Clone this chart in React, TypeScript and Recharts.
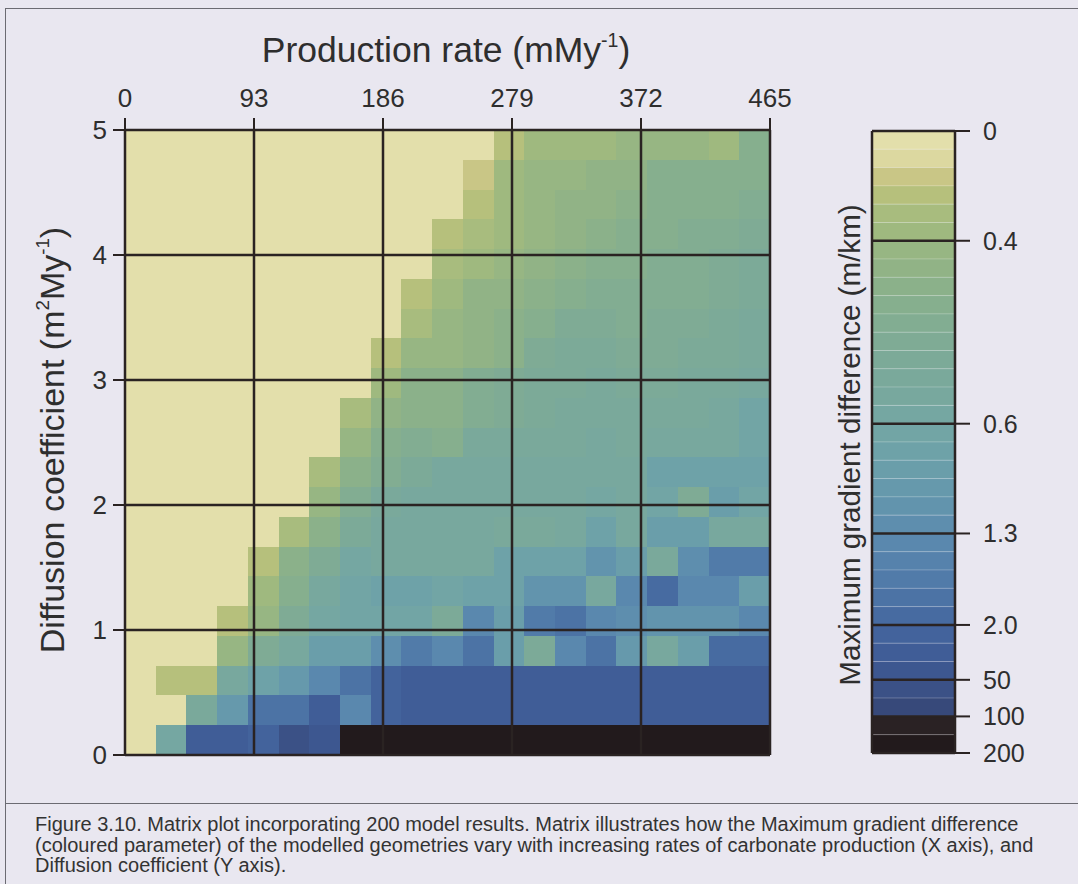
import { ComposedChart, XAxis, YAxis, Scatter, ReferenceArea, ReferenceLine } from "recharts";

const X_TICKS = [0, 93, 186, 279, 372, 465];
const Y_TICKS = [0, 1, 2, 3, 4, 5];

// discrete colour levels, top of the colour bar (0) to the bottom (200)
const PALETTE = [
  "#e3dfab", "#dcd8a0", "#c9c686", "#b6c07c", "#a8bc7e", "#9fb97f", "#97b683", "#91b386",
  "#8bb18a", "#86af8e", "#82ad92", "#7fab95", "#7caa98", "#7aa99b", "#78a89e", "#75a7a2",
  "#72a5a5", "#6ea2a8", "#6a9eaa", "#6699ac", "#6294ad", "#5e8eae", "#5a88ae", "#5682ac",
  "#517ba9", "#4c73a5", "#476ba1", "#43639c", "#405d97", "#3d5790", "#3b5186", "#37497a",
  "#2a2224", "#221a1c",
];

const CB_TICKS = [0, 6, 16, 22, 27, 30, 32, 34];
const CB_LABELS = ["0", "0.4", "0.6", "1.3", "2.0", "50", "100", "200"];

// colour level of every model run; rows from D = 5 (top) down to D = 0
const LEVELS = [
  [0, 0, 0, 0, 0, 0, 0, 0, 0, 0, 0, 0, 3, 5, 5, 5, 6, 6, 6, 5, 9],
  [0, 0, 0, 0, 0, 0, 0, 0, 0, 0, 0, 2, 5, 6, 6, 7, 7, 9, 9, 9, 9],
  [0, 0, 0, 0, 0, 0, 0, 0, 0, 0, 0, 3, 5, 6, 7, 7, 8, 9, 9, 9, 10],
  [0, 0, 0, 0, 0, 0, 0, 0, 0, 0, 3, 4, 5, 6, 7, 8, 9, 9, 10, 10, 11],
  [0, 0, 0, 0, 0, 0, 0, 0, 0, 0, 4, 5, 6, 7, 8, 9, 9, 10, 10, 11, 12],
  [0, 0, 0, 0, 0, 0, 0, 0, 0, 3, 5, 7, 7, 8, 9, 10, 10, 10, 10, 11, 12],
  [0, 0, 0, 0, 0, 0, 0, 0, 0, 4, 6, 7, 8, 9, 11, 11, 10, 11, 11, 12, 13],
  [0, 0, 0, 0, 0, 0, 0, 0, 3, 6, 6, 7, 8, 11, 12, 12, 11, 11, 12, 12, 13],
  [0, 0, 0, 0, 0, 0, 0, 0, 5, 8, 8, 10, 11, 12, 12, 13, 12, 12, 13, 13, 14],
  [0, 0, 0, 0, 0, 0, 0, 4, 7, 8, 8, 10, 11, 12, 13, 13, 13, 13, 13, 14, 16],
  [0, 0, 0, 0, 0, 0, 0, 6, 9, 10, 9, 13, 13, 13, 13, 14, 13, 14, 14, 14, 16],
  [0, 0, 0, 0, 0, 0, 4, 8, 10, 12, 14, 14, 14, 14, 14, 14, 14, 17, 17, 17, 17],
  [0, 0, 0, 0, 0, 0, 6, 10, 13, 14, 14, 14, 14, 14, 14, 15, 14, 16, 11, 18, 16],
  [0, 0, 0, 0, 0, 4, 8, 12, 14, 14, 14, 14, 13, 13, 14, 17, 14, 18, 18, 14, 14],
  [0, 0, 0, 0, 3, 8, 11, 15, 14, 14, 14, 14, 17, 17, 17, 20, 18, 13, 21, 24, 24],
  [0, 0, 0, 0, 5, 9, 14, 16, 17, 17, 16, 17, 17, 20, 20, 14, 22, 26, 22, 22, 18],
  [0, 0, 0, 3, 6, 11, 15, 16, 16, 16, 12, 22, 18, 24, 25, 22, 21, 20, 20, 20, 22],
  [0, 0, 0, 6, 11, 14, 18, 18, 21, 24, 22, 25, 18, 12, 22, 25, 19, 14, 18, 26, 26],
  [0, 3, 3, 14, 17, 19, 22, 25, 27, 28, 28, 28, 28, 28, 28, 28, 28, 28, 28, 28, 28],
  [0, 0, 13, 19, 25, 25, 28, 22, 27, 28, 28, 28, 28, 28, 28, 28, 28, 28, 28, 28, 28],
  [0, 15, 28, 28, 27, 30, 29, 33, 33, 33, 33, 33, 33, 33, 33, 33, 33, 33, 33, 33, 33],
];

const X_MAX = 465;
const Y_MAX = 5;
const FONT = "'Liberation Sans', Arial, sans-serif";
const INK = "#2a2322";
const TEXT = "#2e2e2e";

const nRows = LEVELS.length;
const nCols = LEVELS[0].length;
const dx = X_MAX / nCols;
const dy = Y_MAX / nRows;
const cells = LEVELS.flatMap((row, i) =>
  row.map((lvl, c) => ({
    x: (c + 0.5) * dx,
    y: (nRows - 0.5 - i) * dy,
    x1: c * dx,
    x2: (c + 1) * dx,
    y1: (nRows - 1 - i) * dy,
    y2: (nRows - i) * dy,
    fill: PALETTE[lvl],
  }))
);

const bands = PALETTE.map((fill, i) => ({ x: 0.5, y: i + 0.5, y1: i, y2: i + 1, fill }));

function Heatmap() {
  const tick = { fontSize: 26, fill: TEXT, fontFamily: FONT };
  return (
    <ComposedChart width={800} height={800} data={cells} margin={{ top: 88, right: 30, bottom: 45, left: 85 }}>
      <XAxis type="number" dataKey="x" orientation="top" domain={[0, X_MAX]} ticks={X_TICKS} allowDataOverflow
        height={42} tick={tick} tickSize={12} tickMargin={11} axisLine={false}
        tickLine={{ stroke: INK, strokeWidth: 2 }} />
      <YAxis type="number" dataKey="y" domain={[0, Y_MAX]} ticks={Y_TICKS} allowDataOverflow
        width={40} tick={tick} tickSize={12} tickMargin={6} axisLine={false}
        tickLine={{ stroke: INK, strokeWidth: 2 }} />
      <Scatter dataKey="y" isAnimationActive={false} shape={() => <g />} />
      {cells.map((c, k) => (
        <ReferenceArea key={k} x1={c.x1} x2={c.x2} y1={c.y1} y2={c.y2}
          fill={c.fill} fillOpacity={1} stroke="none" shapeRendering="crispEdges" />
      ))}
      {X_TICKS.map((t) => (
        <ReferenceLine key={"x" + t} x={t} stroke={INK} strokeWidth={2.5} />
      ))}
      {Y_TICKS.map((t) => (
        <ReferenceLine key={"y" + t} y={t} stroke={INK} strokeWidth={2.5} />
      ))}
    </ComposedChart>
  );
}

function ColorBar() {
  return (
    <ComposedChart width={218} height={700} data={bands} margin={{ top: 31, right: 3, bottom: 47, left: 12 }}>
      <XAxis type="number" dataKey="x" domain={[0, 1]} hide />
      <YAxis type="number" dataKey="y" orientation="right" domain={[0, 34]} reversed ticks={CB_TICKS}
        tickFormatter={(v: number) => CB_LABELS[CB_TICKS.indexOf(v)]}
        width={120} tick={{ fontSize: 25, fill: TEXT, fontFamily: FONT }}
        tickSize={15} tickMargin={13} axisLine={false}
        tickLine={{ stroke: INK, strokeWidth: 2 }} />
      <Scatter dataKey="y" isAnimationActive={false} shape={() => <g />} />
      {bands.map((b) => (
        <ReferenceArea key={b.y1} x1={0} x2={1} y1={b.y1} y2={b.y2} fill={b.fill} fillOpacity={1}
          stroke="rgba(255,255,255,0.18)" strokeWidth={1} />
      ))}
      {CB_TICKS.map((t) => (
        <ReferenceLine key={t} y={t} stroke={INK} strokeWidth={2.5} />
      ))}
      <ReferenceLine x={0} stroke={INK} strokeWidth={2.5} />
      <ReferenceLine x={1} stroke={INK} strokeWidth={2.5} />
    </ComposedChart>
  );
}

export default function App() {
  const title = { position: "absolute" as const, fontFamily: FONT, color: TEXT, whiteSpace: "nowrap" as const };
  const sup = { fontSize: "0.55em", verticalAlign: "0.75em", lineHeight: 0 };
  return (
    <div style={{ position: "absolute", left: 0, top: 0, width: 1078, height: 884, background: "#e9e7f0", overflow: "hidden" }}>
      <div style={{ position: "absolute", left: 5, top: 8, right: 0, height: 0, borderTop: "1px solid #6b6b72" }} />
      <div style={{ position: "absolute", left: 5, top: 8, bottom: 0, width: 0, borderLeft: "1px solid #6b6b72" }} />
      <div style={{ position: "absolute", left: 5, top: 803, right: 0, height: 0, borderTop: "1px solid #6b6b72" }} />

      <div style={{ position: "absolute", left: 0, top: 0 }}><Heatmap /></div>
      <div style={{ position: "absolute", left: 860, top: 100 }}><ColorBar /></div>

      <div style={{ ...title, left: 446, top: 50, fontSize: 35.5, transform: "translate(-50%, -50%)" }}>
        Production rate (mMy<span style={sup}>-1</span>)
      </div>
      <div style={{ ...title, left: 52, top: 440, fontSize: 34, transform: "translate(-50%, -50%) rotate(-90deg)" }}>
        Diffusion coefficient (m<span style={sup}>2</span>My<span style={sup}>-1</span>)
      </div>
      <div style={{ ...title, left: 850, top: 445, fontSize: 29.6, transform: "translate(-50%, -50%) rotate(-90deg)" }}>
        Maximum gradient difference (m/km)
      </div>

      <div style={{ position: "absolute", left: 35, top: 814, fontFamily: FONT, fontSize: 20, lineHeight: "20.5px", color: "#333", whiteSpace: "nowrap" }}>
        Figure 3.10. Matrix plot incorporating 200 model results. Matrix illustrates how the Maximum gradient difference<br />
        (coloured parameter) of the modelled geometries vary with increasing rates of carbonate production (X axis), and<br />
        Diffusion coefficient (Y axis).
      </div>
    </div>
  );
}
